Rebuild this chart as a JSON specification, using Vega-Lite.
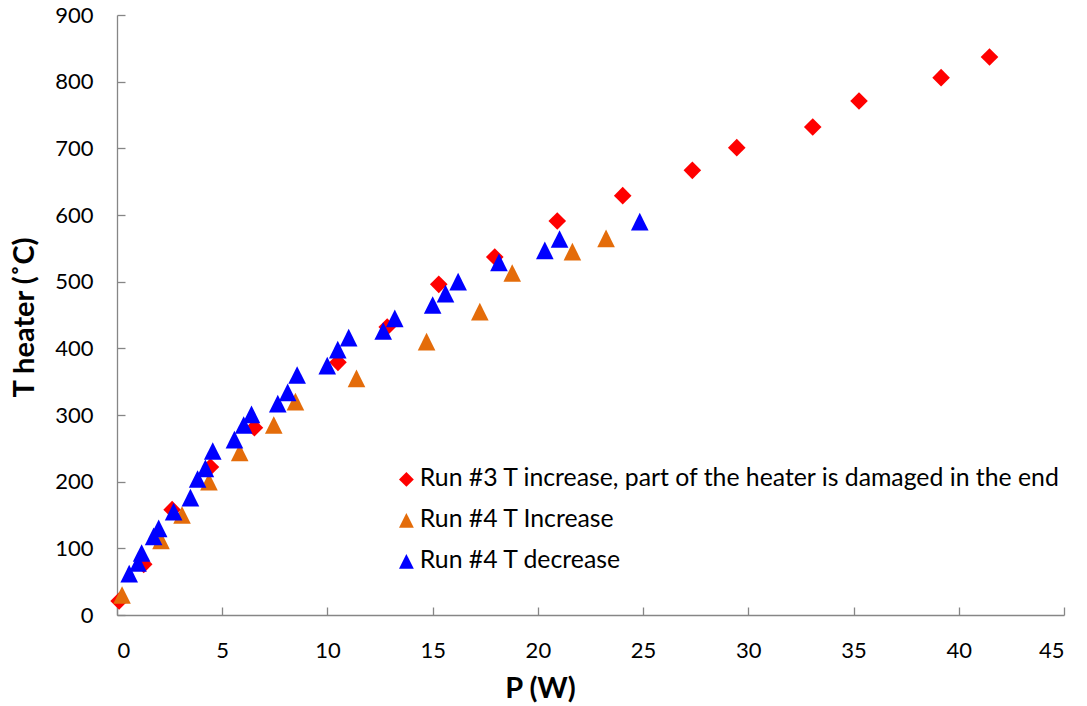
{
  "$schema": "https://vega.github.io/schema/vega-lite/v6.json",
  "width": 947,
  "height": 600,
  "autosize": "none",
  "padding": {"left": 117, "top": 15, "right": 23, "bottom": 91},
  "background": "white",
  "config": {
    "view": {"stroke": null},
    "font": "Lato",
    "axis": {
      "grid": false,
      "domainColor": "#868686",
      "tickColor": "#868686",
      "domainWidth": 1.3,
      "tickWidth": 1.3,
      "tickSize": -8,
      "labelFont": "Lato",
      "labelFontSize": 22,
      "labelColor": "#000000",
      "titleFont": "Lato",
      "titleFontSize": 29,
      "titleFontWeight": "bold",
      "titleColor": "#000000"
    },
    "legend": {
      "labelFont": "Lato",
      "labelFontSize": 24.8,
      "labelColor": "#000000",
      "labelLimit": 0
    }
  },
  "data": {
    "values": [
      {"series": "Run #3 T increase, part of the heater is damaged in the end", "P": 0.1, "T": 21},
      {"series": "Run #3 T increase, part of the heater is damaged in the end", "P": 1.27, "T": 76},
      {"series": "Run #3 T increase, part of the heater is damaged in the end", "P": 2.62, "T": 158},
      {"series": "Run #3 T increase, part of the heater is damaged in the end", "P": 4.44, "T": 222},
      {"series": "Run #3 T increase, part of the heater is damaged in the end", "P": 6.53, "T": 281},
      {"series": "Run #3 T increase, part of the heater is damaged in the end", "P": 10.5, "T": 379},
      {"series": "Run #3 T increase, part of the heater is damaged in the end", "P": 12.84, "T": 432},
      {"series": "Run #3 T increase, part of the heater is damaged in the end", "P": 15.29, "T": 496},
      {"series": "Run #3 T increase, part of the heater is damaged in the end", "P": 17.95, "T": 537},
      {"series": "Run #3 T increase, part of the heater is damaged in the end", "P": 20.92, "T": 591},
      {"series": "Run #3 T increase, part of the heater is damaged in the end", "P": 24.03, "T": 629},
      {"series": "Run #3 T increase, part of the heater is damaged in the end", "P": 27.34, "T": 667},
      {"series": "Run #3 T increase, part of the heater is damaged in the end", "P": 29.45, "T": 701},
      {"series": "Run #3 T increase, part of the heater is damaged in the end", "P": 33.06, "T": 732},
      {"series": "Run #3 T increase, part of the heater is damaged in the end", "P": 35.26, "T": 771},
      {"series": "Run #3 T increase, part of the heater is damaged in the end", "P": 39.16, "T": 806},
      {"series": "Run #3 T increase, part of the heater is damaged in the end", "P": 41.46, "T": 837},
      {"series": "Run #4 T Increase", "P": 0.24, "T": 30},
      {"series": "Run #4 T Increase", "P": 2.09, "T": 112},
      {"series": "Run #4 T Increase", "P": 3.09, "T": 150},
      {"series": "Run #4 T Increase", "P": 4.37, "T": 200},
      {"series": "Run #4 T Increase", "P": 5.83, "T": 244},
      {"series": "Run #4 T Increase", "P": 7.45, "T": 285},
      {"series": "Run #4 T Increase", "P": 8.48, "T": 320},
      {"series": "Run #4 T Increase", "P": 11.38, "T": 355},
      {"series": "Run #4 T Increase", "P": 14.71, "T": 410},
      {"series": "Run #4 T Increase", "P": 17.24, "T": 455},
      {"series": "Run #4 T Increase", "P": 18.78, "T": 513},
      {"series": "Run #4 T Increase", "P": 21.64, "T": 545},
      {"series": "Run #4 T Increase", "P": 23.24, "T": 565},
      {"series": "Run #4 T decrease", "P": 0.58, "T": 62},
      {"series": "Run #4 T decrease", "P": 1.0, "T": 78},
      {"series": "Run #4 T decrease", "P": 1.17, "T": 93},
      {"series": "Run #4 T decrease", "P": 1.74, "T": 118},
      {"series": "Run #4 T decrease", "P": 1.98, "T": 130},
      {"series": "Run #4 T decrease", "P": 2.69, "T": 155},
      {"series": "Run #4 T decrease", "P": 3.49, "T": 176},
      {"series": "Run #4 T decrease", "P": 3.83, "T": 204},
      {"series": "Run #4 T decrease", "P": 4.2, "T": 220},
      {"series": "Run #4 T decrease", "P": 4.55, "T": 246},
      {"series": "Run #4 T decrease", "P": 5.58, "T": 263},
      {"series": "Run #4 T decrease", "P": 6.02, "T": 285},
      {"series": "Run #4 T decrease", "P": 6.39, "T": 301},
      {"series": "Run #4 T decrease", "P": 7.64, "T": 317},
      {"series": "Run #4 T decrease", "P": 8.11, "T": 334},
      {"series": "Run #4 T decrease", "P": 8.56, "T": 360},
      {"series": "Run #4 T decrease", "P": 9.99, "T": 374},
      {"series": "Run #4 T decrease", "P": 10.49, "T": 398},
      {"series": "Run #4 T decrease", "P": 11.01, "T": 416},
      {"series": "Run #4 T decrease", "P": 12.65, "T": 426},
      {"series": "Run #4 T decrease", "P": 13.2, "T": 445},
      {"series": "Run #4 T decrease", "P": 15.0, "T": 465},
      {"series": "Run #4 T decrease", "P": 15.61, "T": 482},
      {"series": "Run #4 T decrease", "P": 16.21, "T": 500},
      {"series": "Run #4 T decrease", "P": 18.15, "T": 529},
      {"series": "Run #4 T decrease", "P": 20.33, "T": 547},
      {"series": "Run #4 T decrease", "P": 21.03, "T": 564},
      {"series": "Run #4 T decrease", "P": 24.84, "T": 590}
    ]
  },
  "mark": {"type": "point", "filled": true, "opacity": 1, "size": 310, "strokeWidth": 0},
  "encoding": {
    "x": {
      "field": "P", "type": "quantitative",
      "scale": {"domain": [0, 45], "nice": false, "zero": true},
      "axis": {
        "values": [0, 5, 10, 15, 20, 25, 30, 35, 40, 45],
        "title": "P (W)",
        "labelPadding": 43.5,
        "labelBaseline": "middle",
        "titleX": 423,
        "titleY": 73,
        "titleBaseline": "middle",
        "titleAnchor": null
      }
    },
    "y": {
      "field": "T", "type": "quantitative",
      "scale": {"domain": [0, 900], "nice": false},
      "axis": {
        "values": [0, 100, 200, 300, 400, 500, 600, 700, 800, 900],
        "title": "T heater (˚C)",
        "labelPadding": 32,
        "titleX": -93,
        "titleY": 302,
        "titleBaseline": "middle",
        "titleAngle": -90
      }
    },
    "color": {
      "field": "series", "type": "nominal",
      "scale": {
        "domain": ["Run #3 T increase, part of the heater is damaged in the end", "Run #4 T Increase", "Run #4 T decrease"],
        "range": ["#FF0000", "#E46C0A", "#0000FF"]
      },
      "legend": {
        "title": null,
        "orient": "none",
        "legendX": 277,
        "legendY": 452,
        "padding": 0,
        "symbolSize": 220,
        "labelOffset": 1,
        "rowPadding": 15,
        "labelLimit": 0,
        "symbolStrokeWidth": 0
      }
    },
    "shape": {
      "field": "series", "type": "nominal",
      "scale": {
        "domain": ["Run #3 T increase, part of the heater is damaged in the end", "Run #4 T Increase", "Run #4 T decrease"],
        "range": ["diamond", "M0,-1L1,1L-1,1Z", "M0,-1L1,1L-1,1Z"]
      },
      "legend": null
    }
  }
}
